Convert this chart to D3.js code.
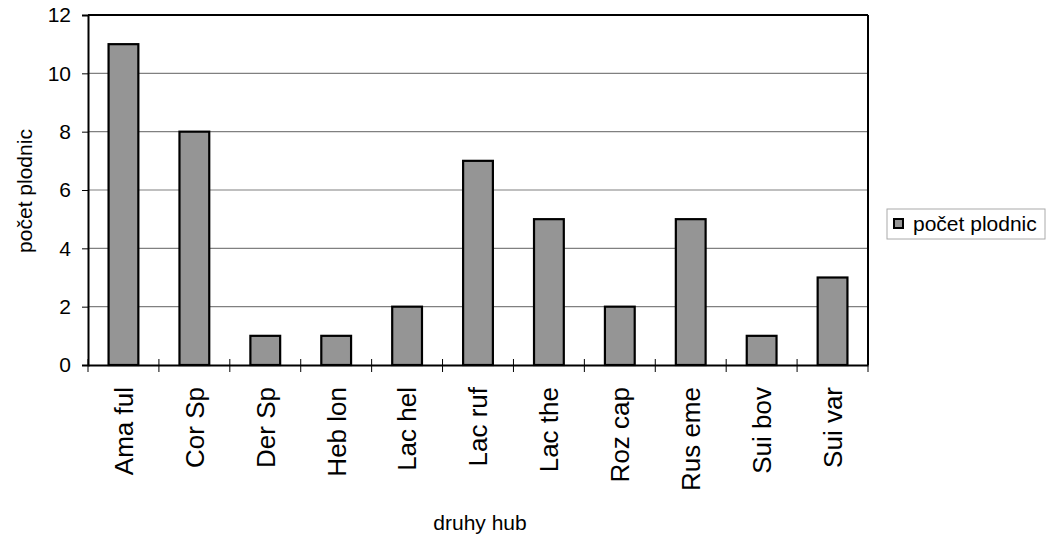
<!DOCTYPE html>
<html>
<head>
<meta charset="utf-8">
<script src="https://cdn.jsdelivr.net/npm/d3@7"></script>
<style>
body{margin:0;background:#fff;}
text{font-family:"Liberation Sans",Arial,sans-serif;fill:#000;}
</style>
</head>
<body>
<svg id="chart" width="1051" height="540"></svg>
<script>
const categories = ["Ama ful","Cor Sp","Der Sp","Heb lon","Lac hel","Lac ruf","Lac the","Roz cap","Rus eme","Sui bov","Sui var"];
const values = [11,8,1,1,2,7,5,2,5,1,3];
const yTicks = [0,2,4,6,8,10,12];
const seriesName = "počet plodnic";
const xTitle = "druhy hub";
const yTitle = "počet plodnic";

const svg = d3.select("#chart");
const L = 88, R = 868, T = 15, B = 365;

const x = d3.scaleBand().domain(categories).range([L, R]).paddingInner(0.58).paddingOuter(0.29);
const xb = d3.scaleBand().domain(categories).range([L, R]);
const y = d3.scaleLinear().domain([0, 12]).range([B, T]);

// gridlines
svg.append("g").selectAll("line").data(yTicks.filter(d => d > 0 && d < 12)).join("line")
  .attr("x1", L).attr("x2", R).attr("y1", d => y(d)).attr("y2", d => y(d))
  .attr("stroke", "#808080").attr("stroke-width", 1.2);

// frame top/right
svg.append("line").attr("x1", L).attr("x2", R).attr("y1", T).attr("y2", T).attr("stroke", "#000").attr("stroke-width", 2);
svg.append("line").attr("x1", R).attr("x2", R).attr("y1", T).attr("y2", B).attr("stroke", "#000").attr("stroke-width", 2);

// bars
svg.append("g").selectAll("rect").data(categories).join("rect")
  .attr("x", d => x(d)).attr("width", x.bandwidth())
  .attr("y", (d, i) => y(values[i])).attr("height", (d, i) => y(0) - y(values[i]))
  .attr("fill", "#959595").attr("stroke", "#000").attr("stroke-width", 2.2);

// y axis
const yAxis = svg.append("g").attr("transform", `translate(${L},0)`)
  .call(d3.axisLeft(y).tickValues(yTicks).tickSize(6).tickPadding(11).tickFormat(d3.format("d")));
yAxis.select(".domain").attr("stroke", "#000").attr("stroke-width", 2);
yAxis.selectAll(".tick line").attr("stroke", "#000").attr("stroke-width", 1);
yAxis.selectAll(".tick text").style("font-size", "21px").style("font-family", '"Liberation Sans",Arial,sans-serif');

// x axis
const xAxis = svg.append("g").attr("transform", `translate(0,${B})`)
  .call(d3.axisBottom(xb).tickSize(0).tickPadding(0));
xAxis.select(".domain").attr("stroke", "#000").attr("stroke-width", 2);
xAxis.selectAll(".tick text")
  .style("font-size", "26px").style("font-family", '"Liberation Sans",Arial,sans-serif')
  .attr("text-anchor", "end").attr("transform", "rotate(-90)")
  .attr("x", -22).attr("y", 0).attr("dy", "0.36em");
// category separator ticks
const bounds = categories.map(c => xb(c)).concat([R]);
svg.append("g").selectAll("line").data(bounds).join("line")
  .attr("x1", d => d).attr("x2", d => d).attr("y1", B - 6).attr("y2", B + 7)
  .attr("stroke", "#000").attr("stroke-width", 1);

// axis titles
svg.append("text").attr("x", 480).attr("y", 530).attr("text-anchor", "middle")
  .style("font-size", "21px").text(xTitle);
svg.append("text").attr("transform", "translate(32,191) rotate(-90)").attr("text-anchor", "middle")
  .style("font-size", "21px").text(yTitle);

// legend
const lg = svg.append("g");
lg.append("rect").attr("x", 887).attr("y", 209).attr("width", 158).attr("height", 30)
  .attr("fill", "#fff").attr("stroke", "#aaa").attr("stroke-width", 1);
lg.append("rect").attr("x", 894).attr("y", 219).attr("width", 9).attr("height", 9)
  .attr("fill", "#959595").attr("stroke", "#000").attr("stroke-width", 2);
lg.append("text").attr("x", 913).attr("y", 231).style("font-size", "21px").text(seriesName);
</script>
</body>
</html>
